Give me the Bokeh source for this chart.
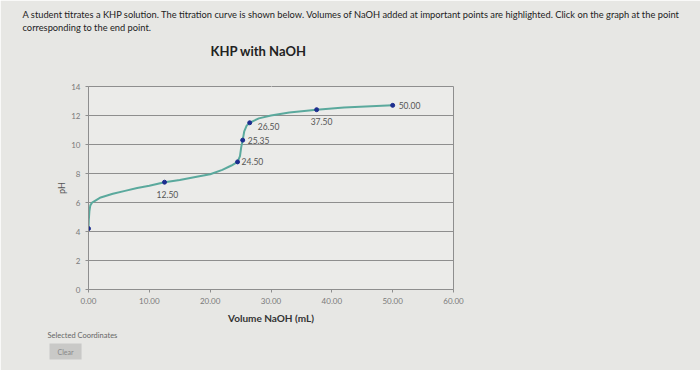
from bokeh.plotting import figure
from bokeh.models import Title, PrintfTickFormatter, ColumnDataSource, LinearAxis, FixedTicker
from bokeh.core.properties import value
from bokeh.embed import file_html
from bokeh.resources import INLINE

# highlighted points
point_vol = [0.00, 12.50, 24.50, 25.35, 26.50, 37.50, 50.00]
point_ph = [4.2, 7.4, 8.8, 10.3, 11.5, 12.4, 12.7]

# titration curve
curve_vol = [0.0, 0.05, 0.15, 0.3, 0.6, 1.0, 2.0, 4.0, 6.0, 8.0, 10.0, 12.5, 15.0,
             18.0, 20.0, 22.0, 23.5, 24.5, 24.9, 25.1, 25.35, 25.6, 26.0, 26.5,
             28.0, 30.0, 33.0, 37.5, 42.0, 50.0]
curve_ph = [4.2, 4.8, 5.4, 5.8, 6.0, 6.1, 6.35, 6.6, 6.8, 7.0, 7.15, 7.4, 7.55,
            7.8, 7.95, 8.25, 8.55, 8.8, 9.2, 9.8, 10.3, 10.9, 11.3, 11.5,
            11.8, 12.0, 12.2, 12.4, 12.55, 12.7]

y_ticks = [0, 2, 4, 6, 8, 10, 12, 14]
x_ticks = [0, 10, 20, 30, 40, 50, 60]

BG = "#e7e7e4"
FONT = "Lato"

L, R, T, B = 88, 453, 86, 289
p = figure(width=700, height=370, x_range=(0, 60), y_range=(0, 14),
           output_backend="svg", toolbar_location=None,
           min_border_left=L, min_border_right=700 - R,
           min_border_top=T, min_border_bottom=370 - B)
p.background_fill_color = "#ebebe9"
p.border_fill_color = BG
p.outline_line_color = "#8e8e8e"

# axes
p.yaxis.ticker = y_ticks
p.yaxis.major_label_text_font_size = "8px"
p.yaxis.major_label_text_color = "#7a7a7a"
p.yaxis.major_label_text_font = FONT
p.yaxis.axis_line_color = "#8e8e8e"
p.yaxis.major_tick_line_color = "#8e8e8e"
p.yaxis.major_tick_out = 3
p.yaxis.major_tick_in = 0
p.yaxis.minor_tick_line_color = None
p.yaxis.axis_label = "pH"
p.yaxis.axis_label_text_font_size = "9px"
p.yaxis.axis_label_text_font_style = "normal"
p.yaxis.axis_label_text_color = "#555555"
p.yaxis.axis_label_text_font = FONT
p.yaxis.axis_label_standoff = 1

p.xaxis.ticker = x_ticks
p.xaxis.formatter = PrintfTickFormatter(format="%.2f")
p.xaxis.major_label_text_font_size = "8px"
p.xaxis.major_label_text_color = "#7a7a7a"
p.xaxis.major_label_text_font = FONT
p.xaxis.axis_line_color = "#8e8e8e"
p.xaxis.major_tick_line_color = "#8e8e8e"
p.xaxis.major_tick_out = 3
p.xaxis.major_tick_in = 0
p.xaxis.minor_tick_line_color = None
p.xaxis.axis_label = "Volume NaOH (mL)"
p.xaxis.axis_label_text_font_size = "10px"
p.xaxis.axis_label_text_font_style = "bold"
p.xaxis.axis_label_text_color = "#333333"
p.xaxis.axis_label_text_font = FONT
p.xaxis.axis_label_standoff = 5

p.xgrid.grid_line_color = None
p.ygrid.grid_line_color = "#8e8e8e"
p.ygrid.grid_line_width = 1

# curve and points
p.line(curve_vol, curve_ph, line_color="#5aa99d", line_width=2)
p.scatter(point_vol, point_ph, size=4, color="#1d2d8f")

lab_src = ColumnDataSource(dict(
    x=point_vol[1:], y=point_ph[1:],
    t=["%.2f" % v for v in point_vol[1:]],
    dx=[-8, 4, 5, 8, -6, 6],
    dy=[12, 0, 0, 4, 12, 0],
))
p.text(x="x", y="y", text="t", x_offset="dx", y_offset="dy", source=lab_src,
       text_font_size="8.5px", text_color="#555555", text_font=value(FONT),
       text_baseline="middle", text_align="left")

# invisible spacer axis between the chart title and the frame
spacer = LinearAxis(ticker=FixedTicker(ticks=[30]), major_tick_out=21, major_tick_in=0,
                    major_label_standoff=0, major_label_overrides={30: ""},
                    major_label_text_font_size="1px", axis_line_color=None,
                    major_tick_line_color=BG, minor_tick_line_color=None)
p.add_layout(spacer, "above")

# titles above (first added = closest to the frame)
p.add_layout(Title(text="KHP with NaOH", align="left", offset=122, standoff=14,
                   text_font_size="13px", text_font_style="bold", text_color="#222222",
                   text_font=FONT), "above")
p.add_layout(Title(text="A student titrates a KHP solution. The titration curve is shown below. "
                   "Volumes of NaOH added at important points are highlighted. Click on the graph at the point\n"
                   "corresponding to the end point.",
                   align="left", offset=-66, standoff=0, text_font_size="9.3px",
                   text_line_height=1.2,
                   text_font_style="normal", text_color="#222222", text_font=FONT), "above")

# texts below
p.add_layout(Title(text="Selected Coordinates", align="left", offset=-41, standoff=4,
                   text_font_size="7.5px", text_font_style="normal", text_color="#666666",
                   text_font=FONT), "below")
p.add_layout(Title(text="Clear", align="left", offset=-39, standoff=0,
                   text_font_size="7px", text_font_style="normal", text_color="#888888",
                   text_font=FONT, background_fill_color="#c9c9c7", padding=(8, 4)), "below")

open("out.html", "w").write(file_html(p, INLINE))
